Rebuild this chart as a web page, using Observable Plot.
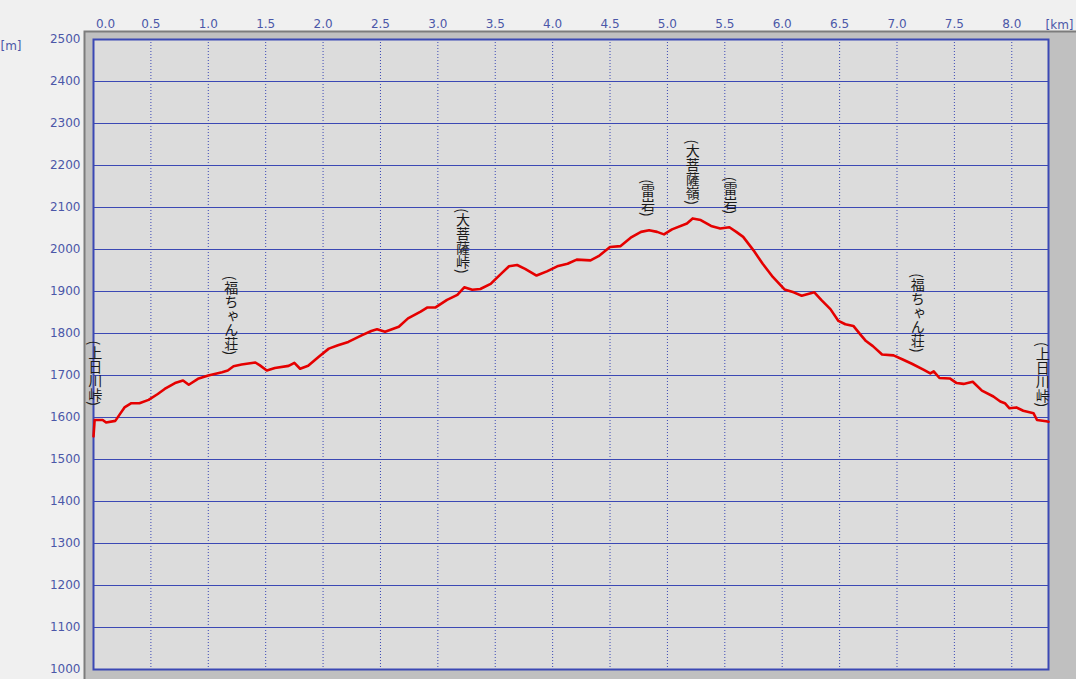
<!DOCTYPE html>
<html>
<head>
<meta charset="utf-8">
<script src="https://cdn.jsdelivr.net/npm/d3@7"></script>
<script src="https://cdn.jsdelivr.net/npm/@observablehq/plot@0.6"></script>
<style>
  html, body { margin: 0; padding: 0; background: #f0f0f0; overflow: hidden; }
</style>
</head>
<body>
<div id="chart"></div>
<script>
// ---- data ----
const trackKm = [0.00,0.01,0.08,0.11,0.19,0.23,0.27,0.33,0.40,0.48,0.56,0.62,0.71,0.78,0.83,0.91,1.00,1.12,1.17,1.22,1.29,1.41,1.45,1.51,1.58,1.70,1.75,1.80,1.87,1.96,2.05,2.13,2.22,2.34,2.42,2.47,2.54,2.66,2.74,2.85,2.91,2.98,3.08,3.17,3.23,3.30,3.37,3.46,3.55,3.62,3.69,3.76,3.86,3.95,4.04,4.13,4.21,4.33,4.40,4.50,4.59,4.68,4.77,4.84,4.91,4.97,5.04,5.17,5.22,5.29,5.38,5.46,5.54,5.60,5.66,5.75,5.83,5.92,6.02,6.10,6.17,6.28,6.34,6.42,6.49,6.55,6.62,6.68,6.73,6.79,6.87,6.97,7.05,7.13,7.23,7.29,7.32,7.37,7.46,7.52,7.58,7.66,7.74,7.84,7.90,7.94,7.98,8.04,8.10,8.19,8.22,8.30,8.32];
const trackElev = [1555,1594,1594,1588,1592,1608,1624,1634,1634,1642,1656,1668,1682,1688,1678,1692,1700,1708,1712,1722,1726,1731,1724,1712,1718,1723,1730,1716,1723,1744,1764,1772,1780,1796,1806,1810,1804,1816,1836,1852,1862,1862,1880,1892,1910,1904,1906,1918,1942,1960,1963,1954,1938,1948,1960,1966,1976,1974,1984,2006,2008,2028,2042,2046,2042,2036,2048,2062,2074,2070,2056,2050,2053,2042,2030,1998,1966,1934,1905,1898,1890,1898,1880,1858,1830,1822,1818,1798,1782,1770,1750,1748,1738,1728,1714,1705,1710,1694,1693,1682,1680,1685,1664,1650,1638,1634,1622,1624,1616,1610,1594,1591,1590];

const labelNames = ["(上日川峠)","(福ちゃん荘)","(大菩薩峠)","(雷岩)","(大菩薩嶺)","(雷岩)","(福ちゃん荘)","(上日川峠)"];
const labelKm    = [0.015, 1.20, 3.22, 4.83, 5.22, 5.55, 7.18, 8.27];
const labelElev  = [1595, 1716, 1910, 2046, 2074, 2052, 1722, 1592];

const xTicks = [0.5,1.0,1.5,2.0,2.5,3.0,3.5,4.0,4.5,5.0,5.5,6.0,6.5,7.0,7.5,8.0];
const xFirstTick = [0.0];
const xGrid = [0.0,0.5,1.0,1.5,2.0,2.5,3.0,3.5,4.0,4.5,5.0,5.5,6.0,6.5,7.0,7.5,8.0];
const yTicks = [1000,1100,1200,1300,1400,1500,1600,1700,1800,1900,2000,2100,2200,2300,2400,2500];
const xUnit = ["[km]"];
const yUnit = ["[m]"];

const track = trackKm.map((km, i) => ({km, elev: trackElev[i]}));
const labels = labelNames.map((name, i) => ({name, km: labelKm[i], elev: labelElev[i]}));

const blue = "#3b48b4";
const fmt = d3.format(".1f");

const plot = Plot.plot({
  width: 1076,
  height: 679,
  marginLeft: 93,
  marginTop: 39,
  marginRight: 28,
  marginBottom: 10,
  style: {background: "#f0f0f0", fontFamily: "'DejaVu Sans', Verdana, sans-serif", fontSize: "12px", color: "#4b57a8"},
  x: {domain: [0, 8.32]},
  y: {domain: [1000, 2500]},
  marks: [
    Plot.frame({fill: "#c0c0c0", insetLeft: -9, insetTop: -8, insetRight: -40, insetBottom: -20}),
    Plot.frame({stroke: "#7c7c7c", strokeWidth: 2, insetLeft: -9, insetTop: -8, insetRight: -40, insetBottom: -20}),
    Plot.frame({fill: "#dcdcdc"}),
    Plot.gridY(yTicks, {stroke: blue, strokeOpacity: 1, strokeWidth: 1}),
    Plot.gridX(xGrid, {stroke: blue, strokeOpacity: 1, strokeWidth: 1, strokeDasharray: "1,2"}),
    Plot.frame({stroke: blue, strokeWidth: 2}),
    Plot.axisY(yTicks, {tickSize: 0, tickPadding: 13, tickFormat: d => String(d), label: null}),
    Plot.axisX(xTicks, {anchor: "top", tickSize: 0, tickPadding: 12, tickFormat: fmt, label: null}),
    Plot.axisX(xFirstTick, {anchor: "top", tickSize: 0, tickPadding: 12, tickFormat: fmt, label: null, dx: 12}),
    Plot.text(yUnit, {frameAnchor: "top-left", textAnchor: "start", dx: -93, dy: 2, fill: "#4b57a8"}),
    Plot.text(xUnit, {frameAnchor: "top-right", textAnchor: "start", dx: -3, dy: -19, fill: "#4b57a8"}),
    Plot.line(track, {x: "km", y: "elev", stroke: "#e50000", strokeWidth: 2.6, strokeLinejoin: "round"}),
    Plot.text(labels, {x: "km", y: "elev", text: "name", textAnchor: "end", dy: -18, fill: "#1a1a1a",
      fontFamily: "'Noto Sans CJK JP', sans-serif", fontSize: 14})
  ]
});

d3.select(plot).selectAll("text")
  .filter(function() { return labelNames.includes(this.textContent); })
  .attr("dy", null)
  .style("writing-mode", "vertical-rl");

document.getElementById("chart").appendChild(plot);
</script>
</body>
</html>
